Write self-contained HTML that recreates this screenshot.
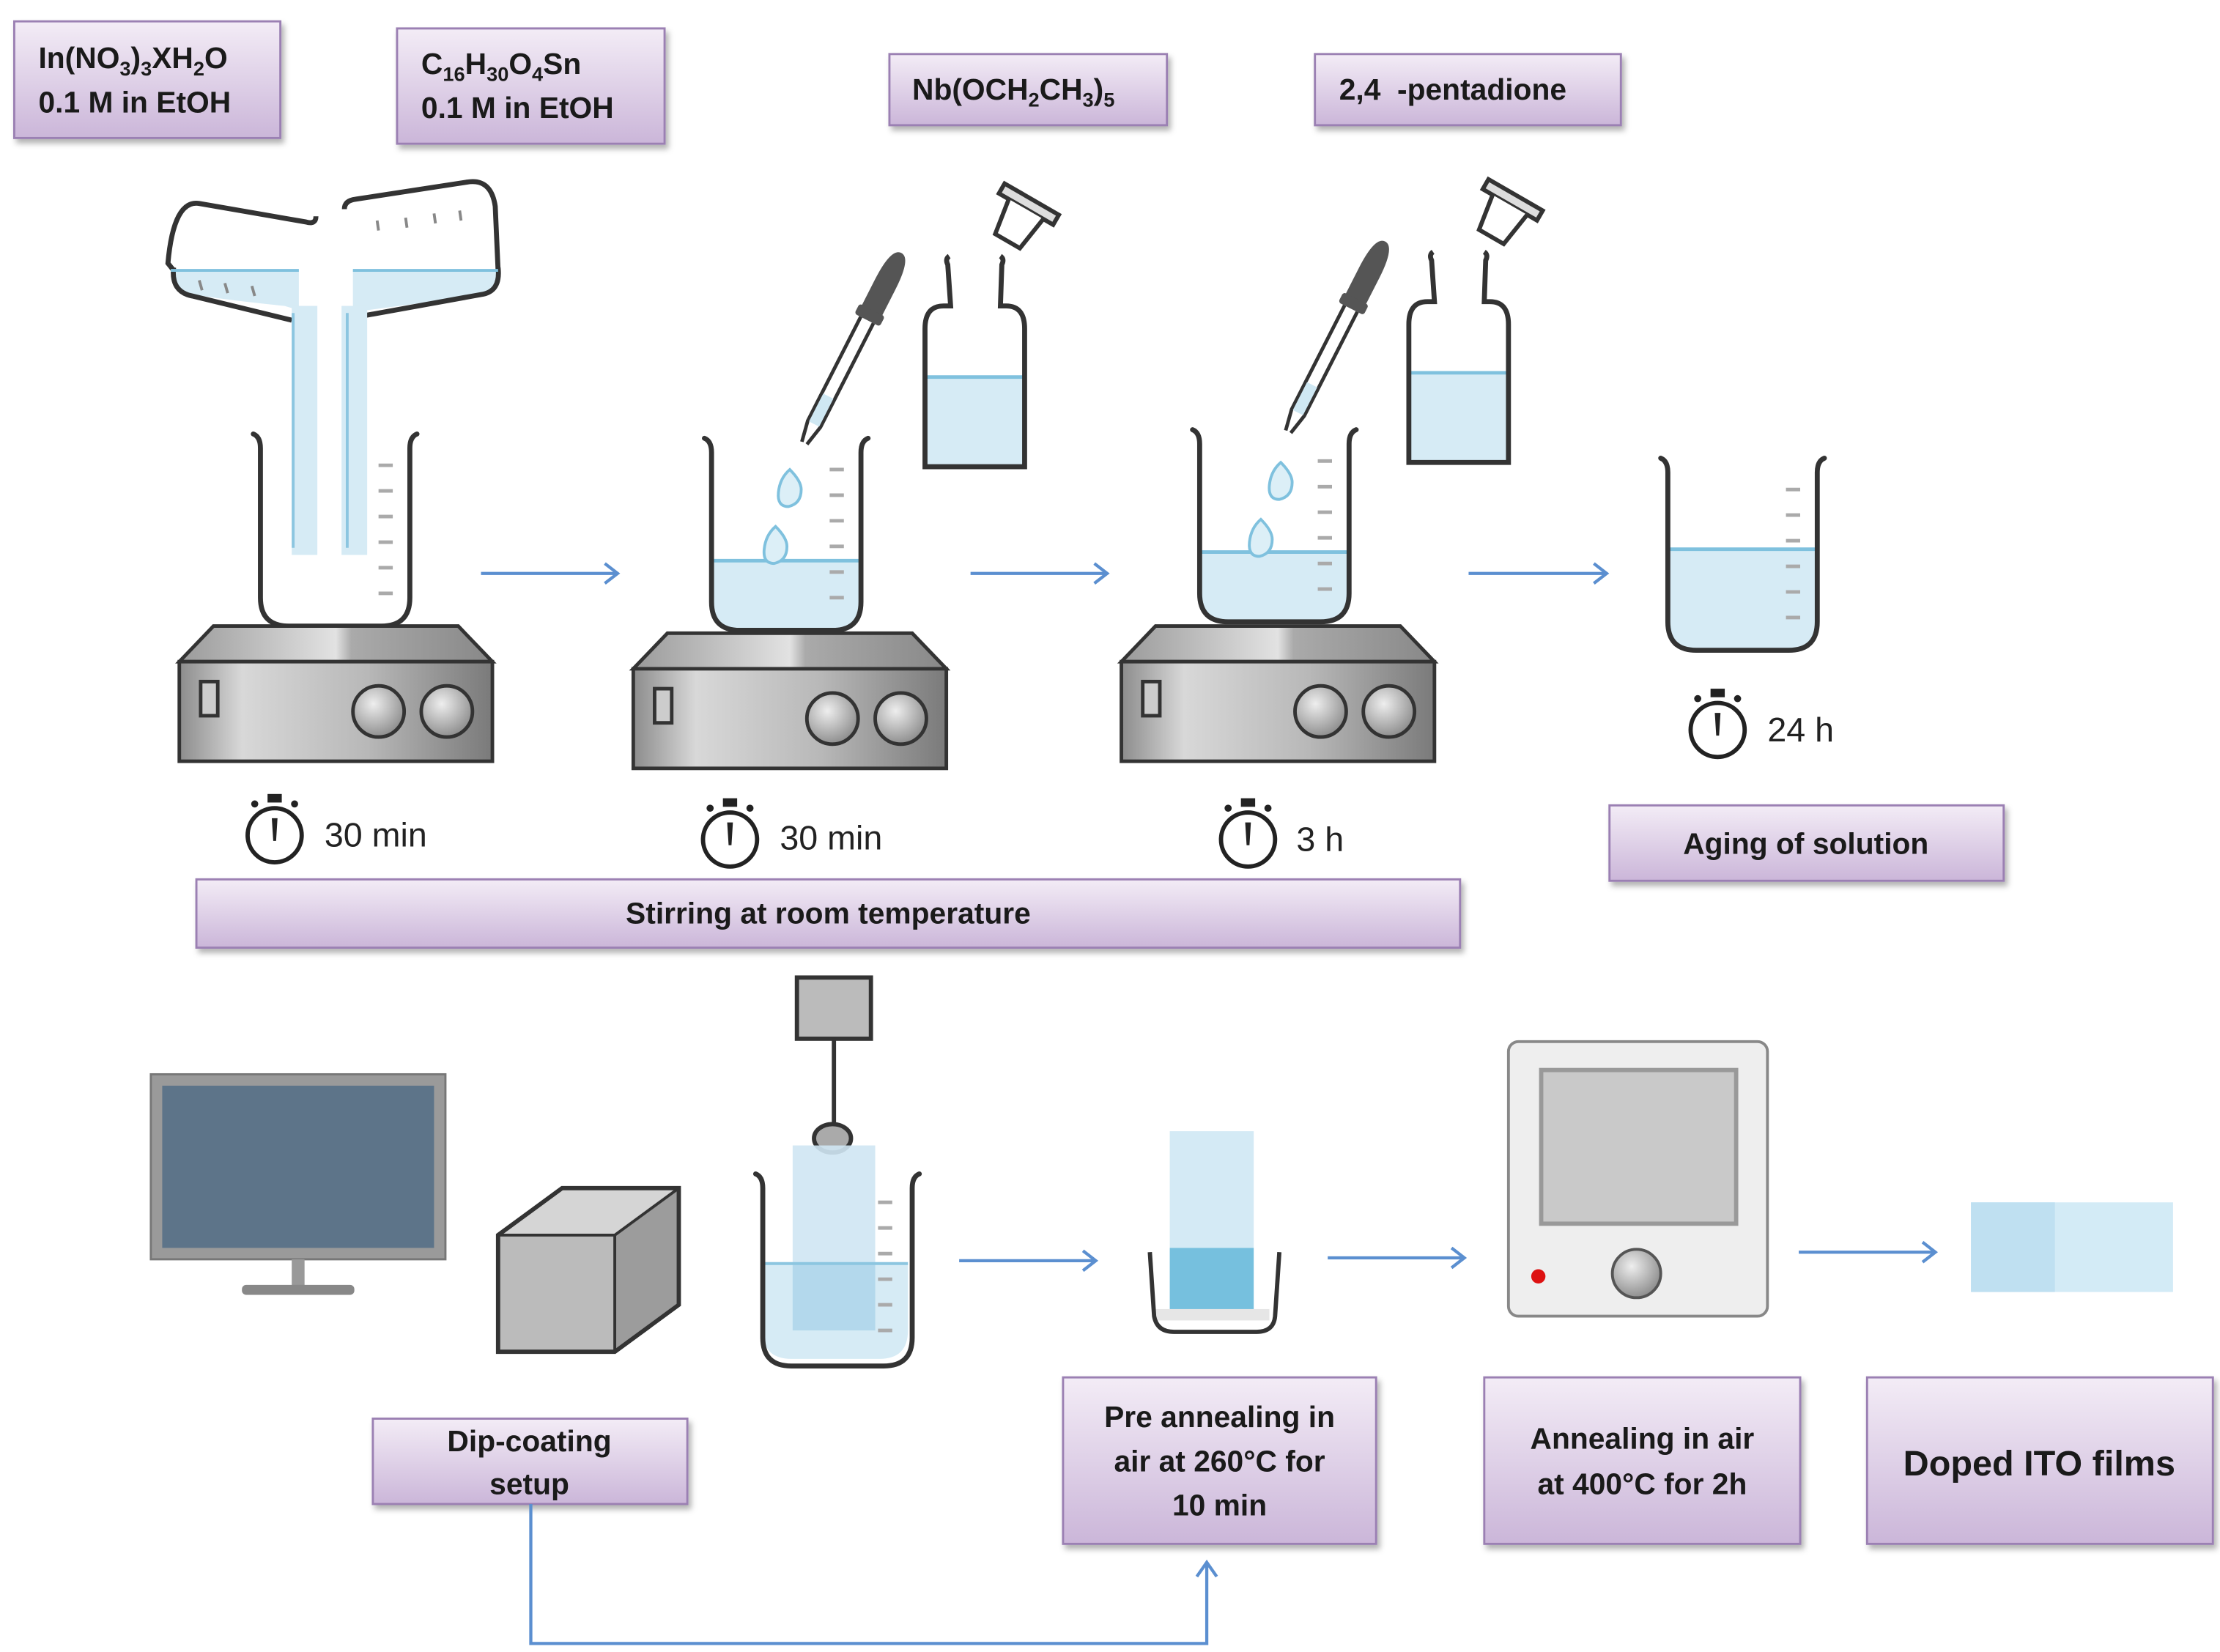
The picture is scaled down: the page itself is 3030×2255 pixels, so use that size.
<!DOCTYPE html>
<html><head><meta charset="utf-8"><style>
html,body{margin:0;padding:0;background:#fff;}
svg{display:block;}
text{font-family:"Liberation Sans",sans-serif;}
.bt{font-weight:bold;font-size:21px;fill:#1a1a1a;}
.tt{font-size:24px;fill:#222;}
</style></head><body>
<svg width="3030" height="2255" viewBox="0 0 1560 1161" xmlns="http://www.w3.org/2000/svg">
<defs>
<linearGradient id="pb" x1="0" y1="0" x2="0" y2="1"><stop offset="0" stop-color="#f3ecf6"/><stop offset="1" stop-color="#cbb6d9"/></linearGradient>
<linearGradient id="gr" x1="0" y1="0" x2="1" y2="0"><stop offset="0" stop-color="#8c8c8c"/><stop offset="0.2" stop-color="#d8d8d8"/><stop offset="0.6" stop-color="#b8b8b8"/><stop offset="1" stop-color="#7a7a7a"/></linearGradient>
<linearGradient id="gt" x1="0" y1="0" x2="1" y2="0"><stop offset="0" stop-color="#9a9a9a"/><stop offset="0.5" stop-color="#e2e2e2"/><stop offset="0.55" stop-color="#aaaaaa"/><stop offset="1" stop-color="#888"/></linearGradient>
<radialGradient id="kn" cx="0.4" cy="0.35" r="0.7"><stop offset="0" stop-color="#eee"/><stop offset="1" stop-color="#888"/></radialGradient>
<filter id="sh" x="-5%" y="-10%" width="115%" height="130%"><feDropShadow dx="2" dy="3" stdDeviation="2" flood-color="#000" flood-opacity="0.3"/></filter>
<g id="stir">
<path d="M24,-25 H196 L220,0 H0 Z" fill="url(#gt)" stroke="#333" stroke-width="2.5"/>
<rect x="0" y="0" width="220" height="70" fill="url(#gr)" stroke="#333" stroke-width="2.5"/>
<rect x="15" y="14" width="12" height="24" fill="#ccc" stroke="#333" stroke-width="2.5"/>
<circle cx="140" cy="35" r="18" fill="url(#kn)" stroke="#333" stroke-width="2.5"/>
<circle cx="188" cy="35" r="18" fill="url(#kn)" stroke="#333" stroke-width="2.5"/>
</g>
<g id="ticks" stroke="#aaa" stroke-width="2.5">
<line x1="92" y1="14" x2="102" y2="14"/><line x1="92" y1="32" x2="102" y2="32"/><line x1="92" y1="50" x2="102" y2="50"/><line x1="92" y1="68" x2="102" y2="68"/><line x1="92" y1="86" x2="102" y2="86"/><line x1="92" y1="104" x2="102" y2="104"/>
</g>
<path id="bk" d="M0,0 q5,2 5,10 V115 q0,20 20,20 H90 q20,0 20,-20 V10 q0,-8 5,-10" fill="none" stroke="#333" stroke-width="3.5" stroke-linecap="round"/>
<g id="timer">
<circle cx="0" cy="0" r="19" fill="#fff" stroke="#222" stroke-width="3"/>
<rect x="-5" y="-29" width="10" height="6" fill="#222"/>
<circle cx="-14" cy="-22" r="2.5" fill="#222"/><circle cx="14" cy="-22" r="2.5" fill="#222"/>
<path d="M-2,-12 L2,-12 L1,4 L-1,4 Z" fill="#222"/>
</g>
<g id="bottle">
<path d="M5,50 H75 V112 H5 Z" fill="#d6ebf5"/>
<line x1="5" y1="50" x2="75" y2="50" stroke="#7fc1de" stroke-width="2.5"/>
<path d="M22,-35 q-3,2 -1,6 L23,0 H18 q-13,0 -13,16 V113 H75 V16 q0,-16 -13,-16 H58 L59,-29 q2,-4 -1,-6" fill="none" stroke="#333" stroke-width="3.5"/>
<g transform="translate(80,-75) rotate(30)"><rect x="-22" y="0" width="44" height="8" fill="#ddd" stroke="#333" stroke-width="3"/><path d="M-14,8 L-10,34 H10 L14,8" fill="#fff" stroke="#333" stroke-width="3"/></g>
</g>
<g id="dropper">
<g transform="rotate(27)">
<path d="M-8,0 q0,-25 8,-25 q8,0 8,25 V22 H-8 Z" fill="#555"/>
<rect x="-10" y="20" width="20" height="8" rx="2" fill="#555"/>
<path d="M-5,28 V110 L-2,125 M5,28 V110 L2,125" fill="none" stroke="#333" stroke-width="2.5"/>
<rect x="-4" y="88" width="8" height="22" fill="#cfe8f3"/>
</g>
</g>
</defs>

<g filter="url(#sh)">
<rect x="10" y="15" width="187" height="82" fill="url(#pb)" stroke="#9b80b3" stroke-width="1.5"/>
<rect x="279" y="20" width="188" height="81" fill="url(#pb)" stroke="#9b80b3" stroke-width="1.5"/>
<rect x="625" y="38" width="195" height="50" fill="url(#pb)" stroke="#9b80b3" stroke-width="1.5"/>
<rect x="924" y="38" width="215" height="50" fill="url(#pb)" stroke="#9b80b3" stroke-width="1.5"/>
<rect x="138" y="618" width="888" height="48" fill="url(#pb)" stroke="#9b80b3" stroke-width="1.5"/>
<rect x="1131" y="566" width="277" height="53" fill="url(#pb)" stroke="#9b80b3" stroke-width="1.5"/>
<rect x="262" y="997" width="221" height="60" fill="url(#pb)" stroke="#9b80b3" stroke-width="1.5"/>
<rect x="747" y="968" width="220" height="117" fill="url(#pb)" stroke="#9b80b3" stroke-width="1.5"/>
<rect x="1043" y="968" width="222" height="117" fill="url(#pb)" stroke="#9b80b3" stroke-width="1.5"/>
<rect x="1312" y="968" width="243" height="117" fill="url(#pb)" stroke="#9b80b3" stroke-width="1.5"/>
</g>
<text class="bt" x="27" y="48">In(NO<tspan font-size="14" dy="5">3</tspan><tspan dy="-5">)</tspan><tspan font-size="14" dy="5">3</tspan><tspan dy="-5">XH</tspan><tspan font-size="14" dy="5">2</tspan><tspan dy="-5">O</tspan></text>
<text class="bt" x="27" y="79">0.1 M in EtOH</text>
<text class="bt" x="296" y="52">C<tspan font-size="14" dy="5">16</tspan><tspan dy="-5">H</tspan><tspan font-size="14" dy="5">30</tspan><tspan dy="-5">O</tspan><tspan font-size="14" dy="5">4</tspan><tspan dy="-5">Sn</tspan></text>
<text class="bt" x="296" y="83">0.1 M in EtOH</text>
<text class="bt" x="641" y="70">Nb(OCH<tspan font-size="14" dy="5">2</tspan><tspan dy="-5">CH</tspan><tspan font-size="14" dy="5">3</tspan><tspan dy="-5">)</tspan><tspan font-size="14" dy="5">5</tspan></text>
<text class="bt" x="941" y="70" xml:space="preserve">2,4  -pentadione</text>
<text class="bt" x="582" y="649" text-anchor="middle">Stirring at room temperature</text>
<text class="bt" x="1269" y="600" text-anchor="middle">Aging of solution</text>
<text class="bt" x="372" y="1020" text-anchor="middle">Dip-coating</text>
<text class="bt" x="372" y="1050" text-anchor="middle">setup</text>
<text class="bt" x="857" y="1003" text-anchor="middle">Pre annealing in</text>
<text class="bt" x="857" y="1034" text-anchor="middle">air at 260°C for</text>
<text class="bt" x="857" y="1065" text-anchor="middle">10 min</text>
<text class="bt" x="1154" y="1018" text-anchor="middle">Annealing in air</text>
<text class="bt" x="1154" y="1050" text-anchor="middle">at 400°C for 2h</text>
<text class="bt" x="1433" y="1037" text-anchor="middle" style="font-size:25px">Doped ITO films</text>

<path d="M122,190 L118,185 Q122,140 140,143 L215,156 Q222,158 222,152" fill="none" stroke="#333" stroke-width="3.5"/>
<path d="M120,190 L210,190 V218 L200,215 Q150,210 125,205 Z" fill="#d6ebf5"/>
<path d="M122,188 Q120,205 135,208 L205,225" fill="none" stroke="#333" stroke-width="3.5"/>
<line x1="120" y1="190" x2="210" y2="190" stroke="#7fc1de" stroke-width="2"/>
<path d="M350,190 L348,145 Q345,125 328,128 L250,140 Q242,141 242,147" fill="none" stroke="#333" stroke-width="3.5"/>
<path d="M248,190 L350,190 Q352,205 340,207 L258,218 L248,222 Z" fill="#d6ebf5"/>
<path d="M350,188 Q352,205 338,207 L255,222" fill="none" stroke="#333" stroke-width="3.5"/>
<line x1="248" y1="190" x2="350" y2="190" stroke="#7fc1de" stroke-width="2"/>
<g stroke="#888" stroke-width="2"><line x1="140" y1="197" x2="142" y2="204"/><line x1="158" y1="199" x2="160" y2="206"/><line x1="177" y1="201" x2="179" y2="208"/><line x1="265" y1="155" x2="266" y2="162"/><line x1="285" y1="153" x2="286" y2="160"/><line x1="305" y1="150" x2="306" y2="157"/><line x1="323" y1="148" x2="324" y2="155"/></g>
<rect x="205" y="215" width="18" height="175" fill="#d6ebf5"/>
<rect x="240" y="215" width="18" height="175" fill="#d6ebf5"/>
<line x1="206" y1="220" x2="206" y2="385" stroke="#8cc6e0" stroke-width="2"/>
<line x1="244" y1="220" x2="244" y2="385" stroke="#8cc6e0" stroke-width="2"/>

<g transform="translate(178,305)"><use href="#bk"/><use href="#ticks" transform="translate(-4,8)"/></g>
<use href="#stir" transform="translate(126,465)"/>
<use href="#timer" transform="translate(193,587)"/><text class="tt" x="228" y="595">30 min</text>

<g transform="translate(495,308)">
<path d="M5,86 H110 V115 q0,20 -20,20 H25 q-20,0 -20,-20 Z" fill="#d6ebf5"/>
<line x1="5" y1="86" x2="110" y2="86" stroke="#7fc1de" stroke-width="2.5"/>
<use href="#bk"/><use href="#ticks" transform="translate(-4,8)"/></g>
<use href="#stir" transform="translate(445,470)"/>
<use href="#dropper" transform="translate(622,200)"/>
<path d="M555,330 q8,8 8,14 q0,10 -9,12 q-8,0 -7,-10 q1,-10 8,-16Z" fill="#dceff7" stroke="#7fc1de" stroke-width="2"/>
<path d="M545,370 q8,8 8,14 q0,10 -9,12 q-8,0 -7,-10 q1,-10 8,-16Z" fill="#dceff7" stroke="#7fc1de" stroke-width="2"/>
<use href="#bottle" transform="translate(645,215)"/>
<use href="#timer" transform="translate(513,590)"/><text class="tt" x="548" y="597">30 min</text>

<g transform="translate(838,302)">
<path d="M5,86 H110 V115 q0,20 -20,20 H25 q-20,0 -20,-20 Z" fill="#d6ebf5"/>
<line x1="5" y1="86" x2="110" y2="86" stroke="#7fc1de" stroke-width="2.5"/>
<use href="#bk"/><use href="#ticks" transform="translate(-4,8)"/></g>
<use href="#stir" transform="translate(788,465)"/>
<use href="#dropper" transform="translate(962,192)"/>
<path d="M900,325 q8,8 8,14 q0,10 -9,12 q-8,0 -7,-10 q1,-10 8,-16Z" fill="#dceff7" stroke="#7fc1de" stroke-width="2"/>
<path d="M886,365 q8,8 8,14 q0,10 -9,12 q-8,0 -7,-10 q1,-10 8,-16Z" fill="#dceff7" stroke="#7fc1de" stroke-width="2"/>
<use href="#bottle" transform="translate(985,212)"/>
<use href="#timer" transform="translate(877,590)"/><text class="tt" x="911" y="598">3 h</text>

<g transform="translate(1167,322)">
<path d="M5,64 H110 V115 q0,20 -20,20 H25 q-20,0 -20,-20 Z" fill="#d6ebf5"/>
<line x1="5" y1="64" x2="110" y2="64" stroke="#7fc1de" stroke-width="2.5"/>
<use href="#bk"/><use href="#ticks" transform="translate(-4,8)"/></g>
<use href="#timer" transform="translate(1207,513)"/><text class="tt" x="1242" y="521">24 h</text>

<g fill="none" stroke="#5b8fd0" stroke-width="2.2">
<path d="M338,403 H434 M425,396 L434,403 L425,410"/>
<path d="M682,403 H778 M769,396 L778,403 L769,410"/>
<path d="M1032,403 H1129 M1120,396 L1129,403 L1120,410"/>
<path d="M674,886 H770 M761,879 L770,886 L761,893"/>
<path d="M933,884 H1029 M1020,877 L1029,884 L1020,891"/>
<path d="M1264,880 H1360 M1351,873 L1360,880 L1351,887"/>
<path d="M373,1057 V1155 H848 V1098 M841,1108 L848,1098 L855,1108"/>
</g>

<rect x="106" y="755" width="207" height="130" fill="#9a9a9a" stroke="#777" stroke-width="1.5"/>
<rect x="114" y="763" width="191" height="114" fill="#5d7489"/>
<rect x="205" y="885" width="9" height="20" fill="#999"/>
<rect x="170" y="903" width="79" height="7" rx="3" fill="#888"/>
<path d="M350,868 L395,835 H477 L432,868 Z" fill="#d5d5d5"/>
<path d="M432,868 L477,835 V917 L432,950 Z" fill="#9c9c9c"/>
<rect x="350" y="868" width="82" height="82" fill="#bbb"/>
<path d="M350,868 H432 V950 M432,868 L477,835" fill="none" stroke="#333" stroke-width="2"/>
<path d="M350,868 L395,835 H477 V917 L432,950 H350 Z" fill="none" stroke="#333" stroke-width="3"/>
<rect x="560" y="687" width="52" height="43" fill="#bbb" stroke="#333" stroke-width="3"/>
<line x1="586" y1="730" x2="586" y2="790" stroke="#333" stroke-width="3"/>
<ellipse cx="585" cy="800" rx="13" ry="10" fill="#aaa" stroke="#333" stroke-width="3"/>
<path d="M536,888 H638 V935 q0,20 -20,20 H556 q-20,0 -20,-20 Z" fill="#d6ebf5"/>
<rect x="557" y="805" width="58" height="130" fill="#cfe6f3" opacity="0.9"/>
<rect x="557" y="888" width="58" height="47" fill="#b3d8ec"/>
<line x1="536" y1="888" x2="638" y2="888" stroke="#8cc6e0" stroke-width="2"/>
<g transform="translate(531,825)"><use href="#bk"/><use href="#ticks" transform="translate(-6,6)"/></g>
<rect x="822" y="795" width="59" height="82" fill="#d4eaf5"/>
<rect x="822" y="877" width="59" height="45" fill="#76c0de"/>
<rect x="812" y="920" width="80" height="8" fill="#e6e6e6"/>
<path d="M808,880 L811,925 q2,11 14,11 H883 q12,0 13,-11 L899,880" fill="none" stroke="#333" stroke-width="3"/>
<rect x="1060" y="732" width="182" height="193" rx="7" fill="#eeeeee" stroke="#888" stroke-width="2"/>
<rect x="1083" y="752" width="137" height="108" fill="#c9c9c9" stroke="#999" stroke-width="3"/>
<circle cx="1081" cy="897" r="5" fill="#d11"/>
<circle cx="1150" cy="895" r="17" fill="url(#kn)" stroke="#555" stroke-width="2"/>
<rect x="1385" y="845" width="142" height="63" fill="#d3ebf6"/>
<rect x="1385" y="845" width="59" height="63" fill="#bfe0f1"/>
</svg>
</body></html>
